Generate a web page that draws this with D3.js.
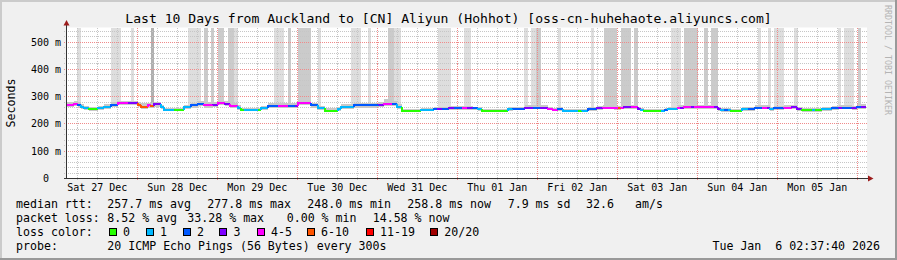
<!DOCTYPE html>
<html>
<head>
<meta charset="utf-8">
<script src="https://cdn.jsdelivr.net/npm/d3@7"></script>
<style>
  body { margin: 0; background: #fff; }
  svg { display: block; }
  text { font-family: "DejaVu Sans Mono", monospace; white-space: pre; }
</style>
</head>
<body>
<svg id="chart" width="897" height="260"></svg>
<script>
// hours since Sat 27 Dec 00:00, start of each median step
var times = [2.63, 5.0, 6.2, 7.1, 8.1, 9.5, 12.2, 14.0, 16.1, 18.2,
  21.2, 24.2, 25.1, 27.2, 28.1, 29.1, 31.1, 32.1, 35.1, 38.1,
  40.1, 42.2, 44.0, 46.7, 48.2, 50.3, 51.8, 54.2, 55.2, 56.0,
  60.2, 61.2, 63.2, 66.2, 69.2, 71.3, 72.2, 76.2, 78.2, 80.3,
  84.2, 85.1, 89.0, 96.5, 98.0, 100.4, 102.0, 103.5, 109.1, 113.0,
  114.0, 115.4, 117.5, 119.0, 121.4, 122.9, 124.8, 126.3, 127.4, 135.3,
  136.8, 140.3, 142.7, 144.8, 147.3, 148.8, 150.3, 151.8, 156.3, 157.4,
  159.3, 161.9, 163.8, 167.1, 168.2, 169.1, 170.1, 172.1, 174.2, 175.1,
  176.1, 181.1, 182.3, 183.2, 186.2, 186.8, 188.1, 190.1, 191.1, 197.1,
  198.2, 199.1, 200.1, 201.2, 202.1, 205.4, 207.2, 209.4, 211.4, 212.9,
  213.9, 215.0, 218.0, 220.4, 221.9, 223.4, 226.4, 227.3, 229.4, 232.4,
  234.5, 235.4, 238.4, 239.9, 241.1];

// median rtt, ms
var median = [270, 274, 268, 262, 257, 254, 257, 262, 270, 278,
  278, 270, 263, 268, 266, 272, 261, 252, 252, 261,
  268, 274, 268, 271, 276, 273, 267, 260, 252, 252,
  252, 257, 266, 266, 266, 266, 276, 268, 257, 249,
  254, 263, 268, 271, 274, 274, 262, 249, 252, 256,
  256, 256, 258, 258, 258, 258, 257, 254, 249, 254,
  256, 260, 260, 260, 256, 251, 254, 248, 248, 249,
  254, 258, 260, 257, 257, 260, 261, 261, 256, 251,
  248, 248, 252, 256, 260, 260, 261, 261, 261, 261,
  255, 250, 250, 250, 248, 255, 255, 260, 260, 260,
  255, 258, 260, 261, 254, 250, 250, 250, 255, 258,
  260, 260, 258, 262, 262];

// loss colour class (index into lossColors)
var loss = [4, 4, 2, 1, 1, 0, 1, 1, 2, 4,
  3, 5, 5, 4, 5, 3, 1, 1, 0, 1,
  2, 2, 4, 3, 4, 3, 4, 1, 0, 1,
  0, 1, 2, 4, 2, 3, 4, 2, 1, 0,
  1, 1, 2, 3, 4, 2, 1, 0, 1, 2,
  3, 2, 3, 2, 4, 3, 2, 1, 0, 1,
  2, 3, 2, 3, 4, 4, 2, 1, 0, 1,
  2, 3, 4, 4, 5, 4, 3, 4, 3, 1,
  0, 1, 2, 1, 4, 3, 4, 3, 4, 3,
  3, 1, 2, 1, 0, 1, 2, 2, 4, 3,
  1, 2, 4, 3, 3, 0, 1, 0, 1, 2,
  3, 2, 3, 2, 3];

// smoke band, ms
var smokeHi = [282, 284, 280, 272, 266, 262, 266, 272, 280, 286,
  286, 280, 276, 278, 277, 282, 270, 260, 260, 270,
  278, 284, 280, 282, 286, 284, 278, 270, 260, 260,
  260, 266, 276, 278, 276, 276, 286, 278, 266, 258,
  262, 272, 278, 282, 290, 286, 272, 256, 260, 264,
  264, 264, 266, 266, 266, 266, 264, 262, 256, 262,
  264, 268, 268, 268, 264, 258, 262, 255, 255, 256,
  262, 266, 268, 266, 266, 268, 269, 269, 264, 258,
  255, 255, 260, 264, 268, 268, 269, 269, 269, 269,
  263, 257, 257, 257, 255, 262, 262, 268, 268, 268,
  262, 266, 268, 269, 262, 257, 257, 257, 262, 266,
  268, 268, 266, 275, 275];
var smokeLo = [262, 266, 260, 255, 250, 248, 250, 255, 262, 270,
  270, 262, 256, 260, 258, 264, 254, 246, 246, 254,
  260, 266, 260, 263, 268, 265, 259, 253, 246, 246,
  246, 250, 258, 258, 258, 258, 268, 260, 250, 244,
  248, 256, 260, 263, 266, 266, 255, 244, 246, 250,
  250, 250, 252, 252, 252, 252, 251, 248, 244, 248,
  250, 254, 254, 254, 250, 246, 248, 243, 243, 244,
  248, 252, 254, 251, 251, 254, 255, 255, 250, 246,
  243, 243, 247, 250, 254, 254, 255, 255, 255, 255,
  249, 245, 245, 245, 243, 249, 249, 254, 254, 254,
  249, 252, 254, 255, 248, 245, 245, 245, 249, 252,
  254, 254, 252, 255, 255];

// periods where some pings went off the top of the graph
var spikeStart = [6.0, 16.1, 22.1, 28.1, 39.3, 44.0, 46.1, 48.2, 51.2, 53.0,
  65.0, 69.2, 72.2, 78.2, 88.1, 93.2, 99.2, 101.1, 114.2, 122.0,
  140.1, 142.1, 143.6, 150.2, 160.1, 164.0, 169.1, 173.1, 184.1, 188.0,
  194.0, 196.1, 210.2, 213.2, 215.1, 221.1, 234.2, 236.1, 240.2];
var spikeEnd = [7.1, 19.1, 23.0, 29.0, 43.1, 45.2, 47.0, 50.0, 53.0, 54.2,
  68.0, 70.1, 76.2, 79.1, 91.1, 94.1, 101.1, 103.1, 118.1, 124.1,
  141.2, 143.6, 145.1, 151.1, 161.1, 168.0, 172.1, 174.2, 187.1, 192.2,
  195.2, 198.2, 211.1, 214.1, 218.1, 222.2, 235.1, 239.1, 241.1];
var spikeShade = [1, 1, 1, 3, 1, 2, 2, 2, 2, 1,
  1, 2, 2, 1, 1, 1, 2, 1, 1, 1,
  1, 1, 2, 1, 1, 2, 2, 2, 1, 2,
  2, 2, 1, 1, 1, 1, 1, 1, 2];

var yTicks = [0, 100, 200, 300, 400, 500];
var lossLabels = ["0", "1", "2", "3", "4-5", "6-10", "11-19", "20/20"];
var lossColors = ["#26ff00", "#00b8ff", "#0059ff", "#7e00ff", "#ff00ff", "#ff5500", "#ff0000", "#a10000"];

var title = "Last 10 Days from Auckland to [CN] Aliyun (Hohhot) [oss-cn-huhehaote.aliyuncs.com]";

var base = Date.UTC(2025, 11, 27);
function hr(h) { return new Date(base + h * 3600e3); }
var startH = 2 + 37 / 60 + 40 / 3600;
var t0 = hr(startH), t1 = hr(startH + 240);

var svg = d3.select("#chart");
var W = 897, H = 260;
var x = d3.scaleTime().domain([t0, t1]).range([66, 866]);
var y = d3.scaleLinear().domain([0, 553.7]).range([178.5, 27.5]);

// frame
svg.append("rect").attr("width", W).attr("height", H).attr("fill", "#f0f0f0");
svg.append("rect").attr("x", 0).attr("y", 0).attr("width", W).attr("height", 2).attr("fill", "#cbcbcb");
svg.append("rect").attr("x", 0).attr("y", 0).attr("width", 2).attr("height", H).attr("fill", "#cbcbcb");
svg.append("rect").attr("x", 0).attr("y", H - 2).attr("width", W).attr("height", 2).attr("fill", "#999");
svg.append("rect").attr("x", W - 2).attr("y", 0).attr("width", 2).attr("height", H).attr("fill", "#999");

// canvas
svg.append("rect")
  .attr("x", 66).attr("y", y.range()[1])
  .attr("width", 801).attr("height", y.range()[0] - y.range()[1])
  .attr("fill", "#fff");

var segs = times.map(function(h, i) {
  return {
    t: hr(h),
    t2: i < times.length - 1 ? hr(times[i + 1]) : t1,
    v: median[i], prev: i > 0 ? median[i - 1] : median[i],
    hi: smokeHi[i], lo: smokeLo[i], c: loss[i]
  };
});
var bis = d3.bisector(function(d) { return d.t; }).right;
function medianAt(t) {
  var i = Math.max(0, bis(segs, t) - 1);
  return segs[i].v;
}

// tall smoke where pings left the chart
var shades = { 1: "#dedede", 2: "#cbcbcb", 3: "#b0b0b0" };
var spikes = spikeStart.map(function(s, i) {
  return { t: hr(s), t2: hr(spikeEnd[i]), shade: spikeShade[i] };
});
svg.append("g").selectAll("rect")
  .data(spikes)
  .enter().append("rect")
  .attr("x", function(d) { return x(d.t); })
  .attr("width", function(d) { return x(d.t2) - x(d.t); })
  .attr("y", y.range()[1])
  .attr("height", function(d) { return y(medianAt(d.t)) - y.range()[1]; })
  .attr("fill", function(d) { return shades[d.shade]; })
  .attr("shape-rendering", "crispEdges");

// smoke band
svg.append("g").selectAll("rect")
  .data(segs)
  .enter().append("rect")
  .attr("x", function(d) { return x(d.t); })
  .attr("width", function(d) { return x(d.t2) - x(d.t); })
  .attr("y", function(d) { return y(d.hi); })
  .attr("height", function(d) { return y(d.lo) - y(d.hi); })
  .attr("fill", "#c8c8c8")
  .attr("shape-rendering", "crispEdges");

// grid
var grid = svg.append("g").attr("shape-rendering", "crispEdges");
var minorX = d3.utcHour.every(6).range(t0, t1).filter(function(d) { return d.getUTCHours() !== 0; });
var majorX = d3.utcDay.range(t0, t1);
var minorY = d3.range(20, 560, 20).filter(function(v) { return v % 100 !== 0 && y(v) >= 27; });
var majorY = yTicks.filter(function(v) { return v > 0; });

grid.selectAll(".vmin").data(minorX).enter().append("line")
  .attr("x1", function(d) { return Math.floor(x(d)) + 0.5; })
  .attr("x2", function(d) { return Math.floor(x(d)) + 0.5; })
  .attr("y1", 27.5).attr("y2", 181)
  .attr("stroke", "#c6c6c6").attr("stroke-dasharray", "1,1");
grid.selectAll(".hmin").data(minorY).enter().append("line")
  .attr("x1", 64).attr("x2", 867)
  .attr("y1", function(d) { return Math.floor(y(d)) + 0.5; })
  .attr("y2", function(d) { return Math.floor(y(d)) + 0.5; })
  .attr("stroke", "#c6c6c6").attr("stroke-dasharray", "1,1");
grid.selectAll(".vmaj").data(majorX).enter().append("line")
  .attr("x1", function(d) { return Math.floor(x(d)) + 0.5; })
  .attr("x2", function(d) { return Math.floor(x(d)) + 0.5; })
  .attr("y1", 27.5).attr("y2", 181)
  .attr("stroke", "#f08a8a").attr("stroke-dasharray", "1,1");
grid.selectAll(".hmaj").data(majorY).enter().append("line")
  .attr("x1", 64).attr("x2", 867)
  .attr("y1", function(d) { return Math.floor(y(d)) + 0.5; })
  .attr("y2", function(d) { return Math.floor(y(d)) + 0.5; })
  .attr("stroke", "#f08a8a").attr("stroke-dasharray", "1,1");

// median line coloured by loss
svg.append("g").selectAll("path")
  .data(segs)
  .enter().append("path")
  .attr("d", function(d) {
    return "M" + x(d.t) + "," + y(d.prev) + "V" + y(d.v) + "H" + x(d.t2);
  })
  .attr("fill", "none")
  .attr("stroke", function(d) { return lossColors[d.c]; })
  .attr("stroke-width", 2)
  .attr("shape-rendering", "crispEdges");

// axes
svg.append("line").attr("x1", 66.5).attr("x2", 66.5).attr("y1", 24).attr("y2", 179)
  .attr("stroke", "#333").attr("shape-rendering", "crispEdges");
svg.append("line").attr("x1", 64).attr("x2", 870).attr("y1", 178.5).attr("y2", 178.5)
  .attr("stroke", "#333").attr("shape-rendering", "crispEdges");
svg.append("path").attr("d", "M63.5,25.5L66.5,20L69.5,25.5Z").attr("fill", "#9c1c1c");
svg.append("path").attr("d", "M868,175.5L873.5,178.5L868,181.5Z").attr("fill", "#9c1c1c");

// y labels
svg.append("g").selectAll("text")
  .data(yTicks)
  .enter().append("text")
  .attr("x", 61)
  .attr("y", function(d) { return y(d) + 3.5; })
  .attr("text-anchor", "end")
  .attr("font-size", "10px")
  .attr("fill", "#000")
  .text(function(d) { return d === 0 ? "0  " : d + " m"; });

// x labels at noon
var noons = d3.range(10).map(function(i) { return hr(12 + 24 * i); });
var fmt = d3.utcFormat("%a %d %b");
svg.append("g").selectAll("text")
  .data(noons)
  .enter().append("text")
  .attr("x", function(d) { return x(d); })
  .attr("y", 190.5)
  .attr("text-anchor", "middle")
  .attr("font-size", "10px")
  .attr("fill", "#000")
  .text(fmt);

svg.append("text")
  .attr("transform", "translate(15,103) rotate(-90)")
  .attr("text-anchor", "middle")
  .attr("font-size", "11.6px")
  .text("Seconds");

svg.append("text")
  .attr("x", 448.5).attr("y", 23.3)
  .attr("text-anchor", "middle")
  .attr("font-size", "13.1px")
  .text(title);

svg.append("text")
  .attr("transform", "translate(885,5) rotate(90)")
  .attr("font-size", "8.3px")
  .attr("fill", "#b4b4b4")
  .text("RRDTOOL / TOBI OETIKER");

// legend
var legendRows = [
  [["median rtt:", 16], ["257.7 ms avg", 107.3], ["277.8 ms max", 207.3], ["248.0 ms min", 307.3],
   ["258.8 ms now", 407.3], ["7.9 ms sd", 507.7], ["32.6", 586], ["am/s", 635]],
  [["packet loss:", 16], ["8.52 % avg", 107.3], ["33.28 % max", 187.3], ["0.00 % min", 286.7], ["14.58 % now", 372.7]],
  [["loss color:", 16]],
  [["probe:", 16], ["20 ICMP Echo Pings (56 Bytes) every 300s", 107.3]]
];
var rowY = [207.8, 221.8, 235.8, 249.6];
legendRows.forEach(function(row, r) {
  row.forEach(function(item) {
    svg.append("text")
      .attr("x", item[1]).attr("y", rowY[r])
      .attr("font-size", "11.6px")
      .text(item[0]);
  });
});

var boxX = [108.7, 145.7, 182.7, 219.3, 256.7, 306.7, 365.7, 430];
var lg = svg.append("g").selectAll("g")
  .data(lossLabels)
  .enter().append("g");
lg.append("rect")
  .attr("x", function(d, i) { return Math.round(boxX[i]) + 0.5; })
  .attr("y", 228.5)
  .attr("width", 7).attr("height", 7)
  .attr("fill", function(d, i) { return lossColors[i]; })
  .attr("stroke", "#000")
  .attr("shape-rendering", "crispEdges");
lg.append("text")
  .attr("x", function(d, i) { return boxX[i] + 14.3; })
  .attr("y", rowY[2])
  .attr("font-size", "11.6px")
  .text(function(d) { return d; });

svg.append("text")
  .attr("x", 880).attr("y", rowY[3])
  .attr("text-anchor", "end")
  .attr("font-size", "11.6px")
  .text("Tue Jan  6 02:37:40 2026");
</script>
</body>
</html>
